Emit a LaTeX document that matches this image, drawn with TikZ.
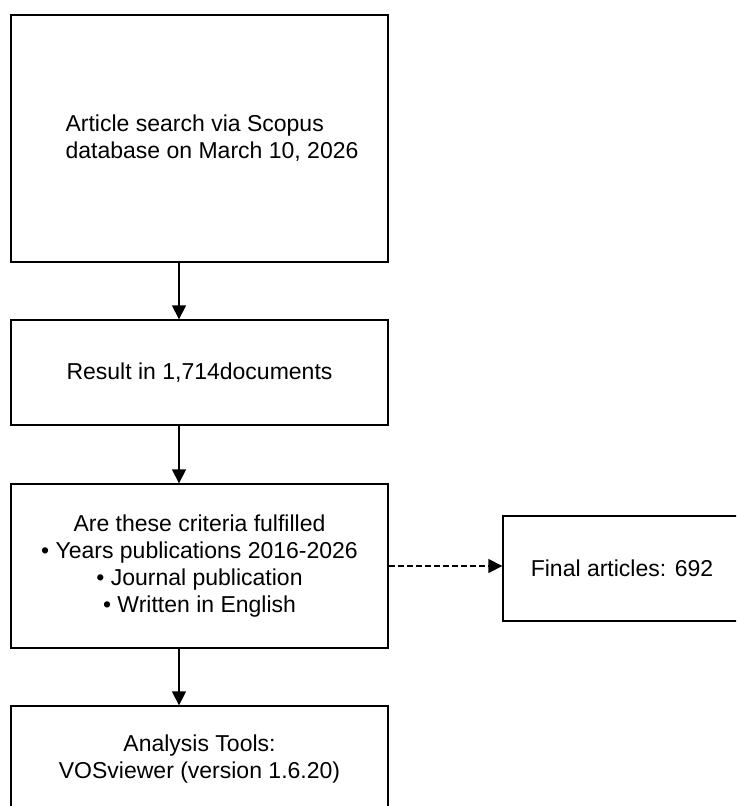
\documentclass[tikz,border=0pt]{standalone}
\usepackage{fontspec}
\setmainfont{Liberation Sans}
\usetikzlibrary{arrows.meta}

\tikzset{
  every node/.style={font=\fontsize{17.25}{20.25}\selectfont},
  box/.style={draw, line width=1pt, rectangle, inner sep=0pt, align=center, minimum width=282.75pt},
  flow/.style={line width=1pt, -{Triangle[length=10.5pt,width=10.5pt]}},
  flowdash/.style={flow, dash pattern=on 4.5pt off 2.25pt}
}

\begin{document}
\begin{tikzpicture}[x=0.75pt,y=0.75pt,yscale=-1,xscale=1]
\clip (0,0) rectangle (736,806);
\useasboundingbox (0,0) rectangle (736,806);

% Boxes
\node [box, minimum height=185.25pt] (search) at (199.5,138.5) {};
\node [box, minimum height=78.75pt] (result) at (199.5,372.5) {Result in 1,714documents};
\node [box, minimum height=123pt] (criteria) at (199.5,566) {Are these criteria fulfilled\\
  • Years publications 2016-2026\\
  • Journal publication\\
  • Written in English};
\node [box, minimum height=79.5pt] (tools) at (199.5,759) {Analysis Tools:\\VOSviewer (version 1.6.20)};
\node [box, minimum width=178.5pt, minimum height=78.75pt] (final) at (622,568.5) {Final articles: 692};

% Text Node
\node [anchor=west, align=left, inner sep=0pt] (searchtxt) at ([xshift=41.25pt]search.west) {Article search via Scopus\\database on March 10, 2026};

% Connectors
\coordinate (spine) at (179,0);
\draw [flow] (search.south -| spine) -- (result.north -| spine);
\draw [flow] (result.south -| spine) -- (criteria.north -| spine);
\draw [flow] (criteria.south -| spine) -- (tools.north -| spine);
\draw [flowdash] (criteria.east) -- (final.west |- criteria.east);

\end{tikzpicture}
\end{document}
